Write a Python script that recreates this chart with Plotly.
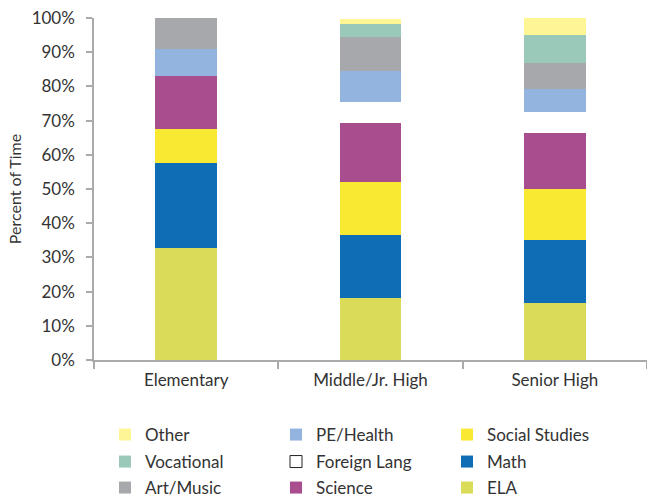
import plotly.graph_objects as go

categories = ["Elementary", "Middle/Jr. High", "Senior High"]

ela = [32.7, 18.1, 16.7]
math = [24.9, 18.4, 18.4]
social_studies = [9.9, 15.5, 14.9]
science = [15.5, 17.3, 16.4]
foreign_lang = [0.0, 6.1, 6.1]
pe_health = [7.9, 9.1, 6.7]
art_music = [9.1, 9.9, 7.6]
vocational = [0.0, 3.8, 8.2]
other = [0.0, 1.5, 5.0]

# name, values, colour, legend column, legend row
series = [
    ("ELA", ela, "#DADB58", 2, 2),
    ("Math", math, "#0E6DB5", 2, 1),
    ("Social Studies", social_studies, "#FAE932", 2, 0),
    ("Science", science, "#A84E8E", 1, 2),
    ("Foreign Lang", foreign_lang, "#FFFFFF", 1, 1),
    ("PE/Health", pe_health, "#93B4DF", 1, 0),
    ("Art/Music", art_music, "#A7A8AB", 0, 2),
    ("Vocational", vocational, "#9BC9B9", 0, 1),
    ("Other", other, "#FEF595", 0, 0),
]

FONT = "Lato"
TXT = "#333333"

W, H = 647, 498
ML, MR, MT, MB = 94, 0, 18, 138
PW, PH = W - ML - MR, H - MT - MB

col_px = [126, 297, 468]   # symbol centres
row_px = [435, 462, 488]

fig = go.Figure()
layout_legends = {}
for i, (name, vals, color, col, row) in enumerate(series):
    leg = "legend" if i == 0 else f"legend{i + 1}"
    is_fl = name == "Foreign Lang"
    fig.add_trace(go.Bar(
        x=categories, y=vals, name=name,
        marker=dict(color=color, line=dict(width=0)),
        width=0.335,
        showlegend=not is_fl,
        legend=leg,
        hoverinfo="skip",
    ))
    if is_fl:
        fig.add_trace(go.Bar(
            x=categories, y=[None, None, None], name=name,
            marker=dict(color="#FFFFFF", line=dict(color="#222222", width=1)),
            showlegend=True, legend=leg,
        ))
    layout_legends[leg] = dict(
        x=(col_px[col] - 21 - ML) / PW,
        y=-(row_px[row] - (MT + PH)) / PH,
        xanchor="left", yanchor="middle",
        font=dict(family=FONT, size=17, color=TXT),
        bgcolor="rgba(0,0,0,0)", borderwidth=0, itemclick=False,
    )

fig.update_layout(
    width=W, height=H,
    margin=dict(l=ML, r=MR, t=MT, b=MB, autoexpand=False),
    barmode="stack",
    paper_bgcolor="white", plot_bgcolor="white",
    font=dict(family=FONT, color=TXT),
    xaxis=dict(
        type="category", tickson="boundaries", ticks="outside", ticklen=7,
        tickcolor="#AAAAAA", tickwidth=1.5,
        showline=True, linecolor="#AAAAAA", linewidth=1.5,
        showgrid=False, tickfont=dict(family=FONT, size=17, color=TXT),
        ticklabelstandoff=4,
        range=[-0.5, 2.5],
    ),
    yaxis=dict(
        range=[0, 100], dtick=10, ticksuffix="%",
        ticks="outside", ticklen=6, tickcolor="#AAAAAA", tickwidth=1.5,
        showline=True, linecolor="#AAAAAA", linewidth=1.5,
        showgrid=False, zeroline=False,
        tickfont=dict(family=FONT, size=17, color=TXT),
        ticklabelstandoff=8,
        title=dict(text="Percent of Time", font=dict(family=FONT, size=16, color=TXT), standoff=6),
    ),
    **layout_legends,
)

fig.write_html("out.html")
